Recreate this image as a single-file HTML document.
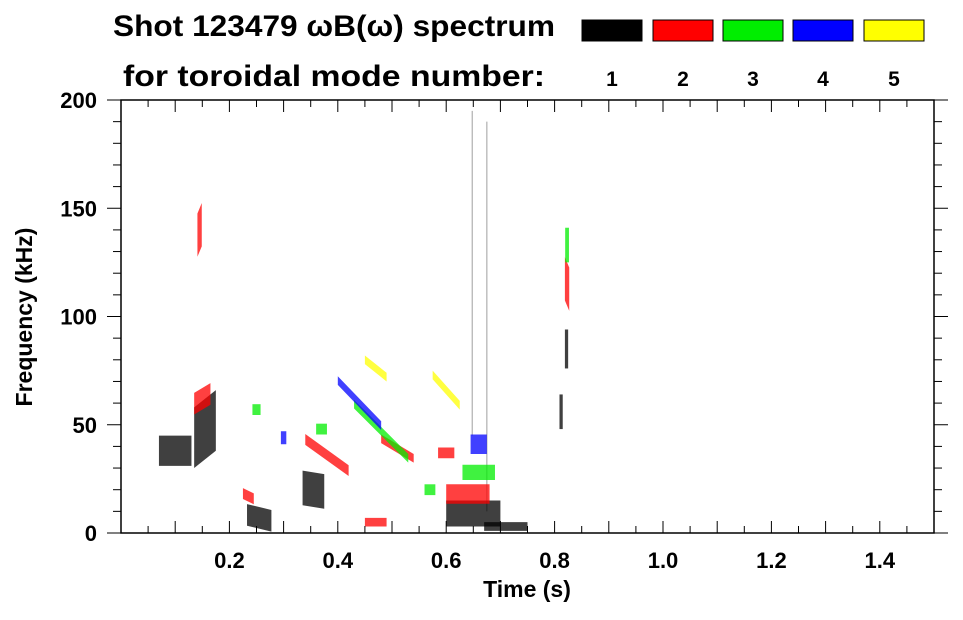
<!DOCTYPE html>
<html><head><meta charset="utf-8"><style>
body{margin:0;background:#fff;}
svg text{font-family:"Liberation Sans",sans-serif;font-weight:bold;fill:#000;}
</style></head><body>
<svg id="c" width="963" height="615">
<text x="113" y="36" font-size="30" textLength="442" lengthAdjust="spacingAndGlyphs">Shot 123479 ωB(ω) spectrum</text>
<text x="123" y="86" font-size="30" textLength="422" lengthAdjust="spacingAndGlyphs">for toroidal mode number:</text>
<g id="legend"></g>
<g id="marks"></g>
<g id="axes"></g>
<text x="527" y="597" font-size="23" text-anchor="middle">Time (s)</text>
<text transform="translate(32,317) rotate(-90)" font-size="23" text-anchor="middle">Frequency (kHz)</text>
</svg>
<script>
const modeColors=["#000000","#ff0000","#00ee00","#0000ff","#ffff00"];
const modeLabels=["1","2","3","4","5"];
const xTicks=[0.2,0.4,0.6,0.8,1.0,1.2,1.4];
const yTicks=[0,50,100,150,200];
// blobs: time center, freq center, duration, bandwidth, slope (kHz/s), mode index
const blobT=[0.10,0.155,0.255,0.355,0.65,0.71,0.812,0.822,0.648,0.675,0.15,0.145,0.38,0.64,0.823,0.60,0.51,0.235,0.47,0.48,0.66,0.823,0.25,0.37,0.44,0.66,0.60,0.47,0.57,0.30];
const blobF=[38,48,7,20,9,3,56,85,120,100,62,140,36,18,115,37,39,17,5,47,28,133,57,48,60,41,66,76,20,44];
const blobDT=[0.06,0.04,0.045,0.04,0.10,0.08,0.006,0.006,0.002,0.002,0.03,0.008,0.08,0.08,0.008,0.03,0.06,0.02,0.04,0.1,0.06,0.007,0.015,0.02,0.08,0.03,0.05,0.04,0.02,0.01];
const blobDF=[14,28,10,16,12,4,16,18,150,180,10,20,5,9,20,5,4,5,4,4,7,16,5,5,4,9,4,4,5,6];
const blobSlope=[0,200,-60,-40,0,0,0,0,0,0,150,600,-180,0,-600,0,-150,-120,0,-250,0,0,0,0,-260,0,-280,-200,0,0];
const blobMode=[0,0,0,0,0,0,0,0,0,0,1,1,1,1,1,1,1,1,1,2,2,2,2,2,3,3,4,4,2,3];
const NS="http://www.w3.org/2000/svg";
const X0=121,X1=934,Y0=533,Y1=100;
const xs=t=>X0+t/1.5*(X1-X0);
const ys=f=>Y0-f/200*(Y0-Y1);
function mk(tag,attrs,parent){const e=document.createElementNS(NS,tag);for(const k in attrs)e.setAttribute(k,attrs[k]);parent.appendChild(e);return e;}
const lg=document.getElementById('legend');
const boxX=[582,653,723,793,864];
modeColors.forEach((c,i)=>{
  const r=mk('rect',{x:boxX[i],y:20,width:60,height:21,fill:c,stroke:'#000','stroke-width':1},lg);
  
  
  const t=mk('text',{x:boxX[i]+30,y:86,'font-size':21,'text-anchor':'middle'},lg);
  t.textContent=modeLabels[i];
  
  
});
const mg=document.getElementById('marks');
blobT.forEach((t,i)=>{
  const t0=t-blobDT[i]/2,t1=t+blobDT[i]/2;
  const fa=blobF[i]-blobSlope[i]*blobDT[i]/2,fb=blobF[i]+blobSlope[i]*blobDT[i]/2,h=blobDF[i]/2;
  const pts=[[xs(t0),ys(fa+h)],[xs(t1),ys(fb+h)],[xs(t1),ys(fb-h)],[xs(t0),ys(fa-h)]].map(p=>p.join(',')).join(' ');
  const thin=blobDT[i]<0.003;
  const p=mk('polygon',{points:pts,fill:modeColors[blobMode[i]],opacity:thin?0.35:0.75},mg);
  
  
});
const ax=document.getElementById('axes');
mk('rect',{x:X0,y:Y1,width:X1-X0,height:Y0-Y1,fill:'none',stroke:'#000','stroke-width':1.5},ax);
for(let k=1;k<30;k++){const x=xs(k*0.05),L=(k%2==0)?12:7;
  mk('line',{x1:x,x2:x,y1:Y0,y2:Y0-L,stroke:'#000'},ax);
  mk('line',{x1:x,x2:x,y1:Y1,y2:Y1+L,stroke:'#000'},ax);}
for(let k=0;k<=20;k++){const y=ys(k*10),L=(k%5==0)?14:8;
  mk('line',{x1:X0,x2:X0-L,y1:y,y2:y,stroke:'#000'},ax);
  mk('line',{x1:X1,x2:X1+L,y1:y,y2:y,stroke:'#000'},ax);}
xTicks.forEach(v=>{const t=mk('text',{x:xs(v),y:568,'font-size':22,'text-anchor':'middle'},ax);t.textContent=v.toFixed(1);
  
  });
yTicks.forEach(v=>{const t=mk('text',{x:97,y:ys(v)+8,'font-size':22,'text-anchor':'end'},ax);t.textContent=v;
  
  });
</script>
</body></html>
